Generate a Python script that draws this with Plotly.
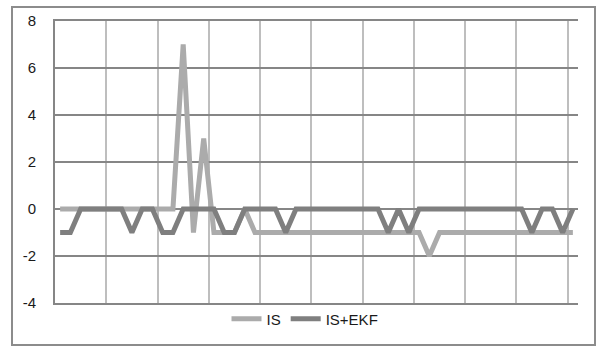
import plotly.graph_objects as go

# Sample index (51 samples) and the two error series
samples = list(range(1, 52))

is_values = [0, 0, 0, 0, 0, 0, 0, 0, 0, 0, 0, 0,
             7, -1, 3, -1, -1, -1, 0,
             -1, -1, -1, -1, -1, -1, -1, -1, -1, -1, -1, -1, -1, -1, -1, -1, -1,
             -2,
             -1, -1, -1, -1, -1, -1, -1, -1, -1, -1, -1, -1, -1, -1]

is_ekf_values = [-1, -1, 0, 0, 0, 0, 0, -1, 0, 0, -1, -1,
                 0, 0, 0, 0, -1, -1, 0, 0, 0, 0, -1,
                 0, 0, 0, 0, 0, 0, 0, 0, 0, -1, 0, -1,
                 0, 0, 0, 0, 0, 0, 0, 0, 0, 0, 0, -1, 0, 0, -1, 0]

series_names = ["IS", "IS+EKF"]
y_ticks = [-4, -2, 0, 2, 4, 6, 8]

W, H = 598, 347
L, R, T, B = 55, 20, 21, 44
pw, ph = W - L - R, H - T - B

fig = go.Figure()
fig.add_trace(go.Scatter(x=samples, y=is_values, name=series_names[0], mode="lines",
                         line=dict(color="#ABABAB", width=5)))
fig.add_trace(go.Scatter(x=samples, y=is_ekf_values, name=series_names[1], mode="lines",
                         line=dict(color="#7F7F7F", width=5)))

font_family = "Liberation Sans, Arial, sans-serif"

fig.update_layout(
    width=W, height=H,
    margin=dict(l=L, r=R, t=T, b=B, pad=0),
    paper_bgcolor="white", plot_bgcolor="white",
    font=dict(family=font_family, size=15, color="#1a1a1a"),
    showlegend=True,
    legend=dict(orientation="h", x=(305 - L) / pw, xanchor="center",
                y=(H - B - 319) / ph, yanchor="middle",
                font=dict(size=15), bgcolor="rgba(0,0,0,0)",
                itemwidth=30, tracegroupgap=0),
    xaxis=dict(range=[0.5, 51.5], tickmode="array",
               tickvals=[0.5 + 5 * k for k in range(11)],
               showticklabels=False, ticks="",
               showgrid=True, gridcolor="#BEBEBE", gridwidth=2,
               zeroline=False, showline=True, mirror=True,
               linecolor="#868686", linewidth=2),
    yaxis=dict(range=[-4, 8], tickmode="array", tickvals=y_ticks,
               ticktext=[str(v) for v in y_ticks],
               showgrid=True, gridcolor="#868686", gridwidth=2,
               zeroline=False, showline=True, linecolor="#868686", linewidth=2,
               ticks="", ticklabelstandoff=14),
)

# Outer chart border
fig.add_shape(type="rect", xref="paper", yref="paper",
              x0=(12 - L) / pw, x1=(595 - L) / pw,
              y0=(H - B - 345) / ph, y1=(H - B - 7) / ph,
              line=dict(color="#8C8C8C", width=2), fillcolor="rgba(0,0,0,0)",
              layer="below")

fig.write_html("out.html")
